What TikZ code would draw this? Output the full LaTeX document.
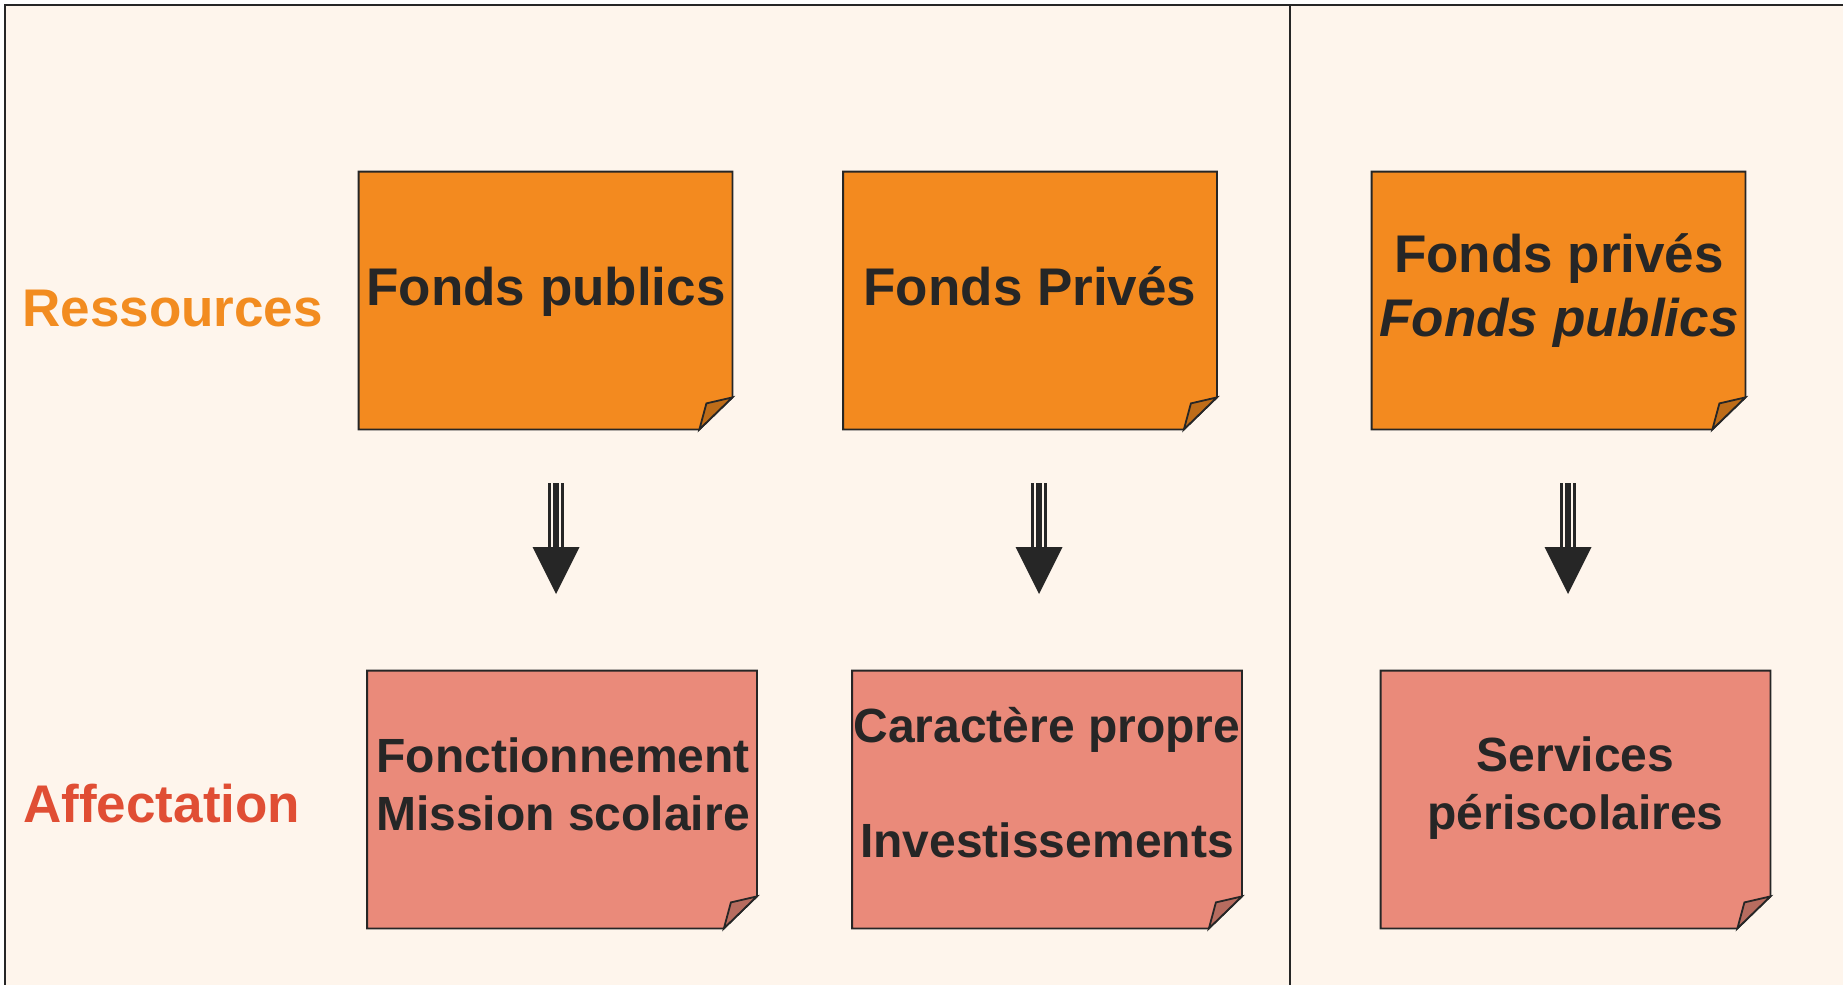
\documentclass[tikz,border=0pt]{standalone}
\usepackage{fontspec}
\setmainfont{Liberation Sans}
\usetikzlibrary{calc}

\definecolor{fond}{HTML}{FEF5EC}
\definecolor{encre}{HTML}{262626}
\definecolor{orangenote}{HTML}{F38A1F}
\definecolor{rosenote}{HTML}{EA8A7A}
\definecolor{ressclr}{HTML}{F28C20}
\definecolor{affclr}{HTML}{E04E34}

\tikzset{
  note/.style={rectangle, inner sep=0pt, minimum height=128.5pt},
  ressource/.style={note, minimum width=186.5pt},
  affect/.style={note, minimum width=194.5pt},
  bord/.style={draw=encre, line width=0.9pt, line join=miter},
  gros/.style={font=\fontsize{26.5}{32.3}\selectfont\bfseries, text=encre, align=center, inner sep=0pt},
  moyen/.style={font=\fontsize{24}{29}\selectfont\bfseries, text=encre, align=center, inner sep=0pt},
  titre/.style={font=\fontsize{26.5}{32}\selectfont\bfseries, inner sep=0pt, anchor=base west},
  tige/.style={draw=encre, line width=1.35pt, double=fond, double distance=5.1pt},
  coeur/.style={draw=encre, line width=3.2pt}
}

\begin{document}
\begin{tikzpicture}[x=0.5pt, y=-0.5pt]
  \useasboundingbox (0,0) rectangle (1843,985);
  \fill[fond] (5,5) rectangle (1843,985);
  \draw[encre, line width=1.1pt] (5,985) -- (5,5) -- (1843,5);
  \draw[encre, line width=1.2pt] (1290,5) -- (1290,985);

  % les notes
  \node[ressource] (fpub) at (545.5,300.5) {};
  \node[ressource] (fpriv) at (1030,300.5) {};
  \node[ressource] (fmix) at (1558.5,300.5) {};
  \node[affect] (fonct) at (562,799.5) {};
  \node[affect] (carac) at (1047,799.5) {};
  \node[affect] (peri) at (1575.5,799.5) {};

  \foreach \n/\c in {fpub/orangenote, fpriv/orangenote, fmix/orangenote,
                     fonct/rosenote, carac/rosenote, peri/rosenote} {
    \filldraw[bord, fill=\c] (\n.north west) -- (\n.north east)
      -- ($(\n.south east)+(0,-32)$) -- ($(\n.south east)+(-33,0)$)
      -- (\n.south west) -- cycle;
    \filldraw[bord, fill=\c!78!black] ($(\n.south east)+(-33,0)$)
      -- ($(\n.south east)+(-26,-26)$) -- ($(\n.south east)+(0,-32)$) -- cycle;
  }

  % textes
  \node[gros, anchor=base] (fpub-t) at (546,305) {Fonds publics};
  \node[gros, anchor=base] (fpriv-t) at (1030,305) {Fonds Privés};
  \node[gros] (fmix-t) at (1559,290.4) {Fonds privés\\\textit{Fonds publics}};
  \node[moyen] (fonct-t) at (563,784) {Fonctionnement\\Mission scolaire};
  \node[moyen] (carac-t) at (1047,783) {Caractère propre\\[28.5pt]Investissements};
  \node[moyen] (peri-t) at (1575.5,788.5) {Services\\périscolaires};

  \node[titre, text=ressclr] (res) at (22,326.7) {Ressources};
  \node[titre, text=affclr] (aff) at (23,822.3) {Affectation};

  % fleches
  \foreach \i/\x in {1/556, 2/1039, 3/1568} {
    \coordinate (h\i) at (\x,483);
    \coordinate (p\i) at (\x,547);
    \coordinate (t\i) at (\x,594);
    \draw[tige] (h\i) -- (p\i);
    \draw[coeur] (h\i) -- (p\i);
    \fill[encre] ($(p\i)+(-23.5,0)$) -- ($(p\i)+(23.5,0)$) -- (t\i) -- cycle;
  }
\end{tikzpicture}
\end{document}
